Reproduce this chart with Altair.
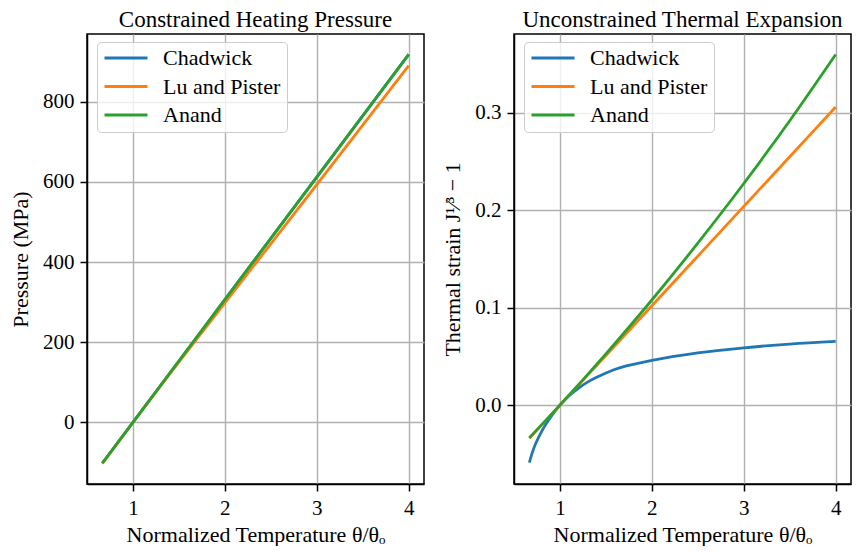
import altair as alt
import pandas as pd

# ---- data ----
series = ["Chadwick", "Lu and Pister", "Anand"]
colors = ["#1f77b4", "#ff7f0e", "#2ca02c"]

# Constrained heating pressure (MPa)
theta_p = [0.667, 1.0, 2.0, 3.0, 4.0]
pressure_chadwick = [-102, 0, 306, 612, 918]
pressure_lu = [-103, 0, 298, 593, 890]
pressure_anand = [-102, 0, 306, 612, 918]

# Unconstrained thermal expansion
theta_s_chadwick = [0.667, 0.70, 0.736, 0.808, 0.916, 1.0, 1.1, 1.2, 1.3, 1.406,
                    1.587, 2.0, 2.5, 3.0, 3.5, 4.0]
strain_chadwick = [-0.059, -0.0485, -0.0395, -0.0258, -0.0102, 0.0, 0.0097, 0.0173,
                   0.0236, 0.0288, 0.0363, 0.0458, 0.0536, 0.0588, 0.0627, 0.0654]
theta_s = [0.667, 1.0, 1.5, 2.0, 2.5, 3.0, 3.5, 4.0]
strain_lu = [-0.034, 0.0, 0.051, 0.102, 0.153, 0.204, 0.255, 0.306]
strain_anand = [-0.0336, 0.0, 0.0526, 0.1079, 0.1663, 0.2275, 0.2920, 0.3600]

x_ticks = [1, 2, 3, 4]
p_ticks = [0, 200, 400, 600, 800]
s_ticks = [0.0, 0.1, 0.2, 0.3]


def long(pairs):
    rows = []
    for name, (theta, vals) in zip(series, pairs):
        for t, v in zip(theta, vals):
            rows.append({"theta": t, "value": v, "model": name})
    return pd.DataFrame(rows)


df_p = long([(theta_p, pressure_chadwick), (theta_p, pressure_lu),
             (theta_p, pressure_anand)])
df_s = long([(theta_s_chadwick, strain_chadwick), (theta_s, strain_lu),
             (theta_s, strain_anand)])

FONT = "Liberation Serif"


def legend():
    return alt.Legend(
        title=None, orient="none", legendX=10, legendY=8,
        symbolType="stroke", symbolSize=1850, symbolStrokeWidth=2.8,
        labelFontSize=22, labelFont=FONT, labelColor="black",
        clipHeight=20, rowPadding=6.5, padding=6, labelOffset=14,
        strokeColor="#cccccc", fillColor="rgba(255,255,255,0.8)",
        cornerRadius=4,
    )


def panel(df, title, ylabel, ydom, yticks, yfmt, title_pad):
    return alt.Chart(df).mark_line(strokeWidth=2.8, interpolate="monotone").encode(
        x=alt.X("theta:Q",
                scale=alt.Scale(domain=[0.5, 4.1667], nice=False, zero=False),
                axis=alt.Axis(values=x_ticks, format="d",
                              title="Normalized Temperature θ/θₒ",
                              labelFont=FONT, titleFont=FONT)),
        y=alt.Y("value:Q",
                scale=alt.Scale(domain=ydom, nice=False, zero=False),
                axis=alt.Axis(values=yticks, format=yfmt, title=ylabel,
                              titlePadding=title_pad,
                              labelFont=FONT, titleFont=FONT)),
        color=alt.Color("model:N",
                        scale=alt.Scale(domain=series, range=colors),
                        legend=legend()),
    ).properties(
        width=337, height=450,
        title=alt.TitleParams(title, frame="group", anchor="middle",
                              fontSize=23, font=FONT, fontWeight="normal",
                              color="black", offset=2),
    )


left = panel(df_p, "Constrained Heating Pressure", "Pressure (MPa)",
             [-154, 969], p_ticks, "d", 10)
right = panel(df_s, "Unconstrained Thermal Expansion", "Thermal strain J¹⁄³ − 1",
              [-0.081, 0.381], s_ticks, ".1f", 10)

chart = alt.hconcat(left, right, spacing=16).resolve_scale(
    color="independent"
).resolve_legend(color="independent").properties(
    padding={"left": 0, "top": 0, "right": 0, "bottom": 0}
).configure(
    font=FONT
).configure_view(
    stroke="black", strokeWidth=1.5
).configure_axis(
    labelFont=FONT, titleFont=FONT, labelFontSize=21, titleFontSize=22,
    labelColor="black", titleColor="black", titleFontWeight="normal",
    gridColor="#b0b0b0", gridWidth=1.4,
    domainColor="black", domainWidth=1.5,
    tickColor="black", tickWidth=1.5, tickSize=7, labelPadding=6,
).configure_axisX(titlePadding=6)

chart.save("out.html", embed_options={"renderer": "svg", "actions": False})
